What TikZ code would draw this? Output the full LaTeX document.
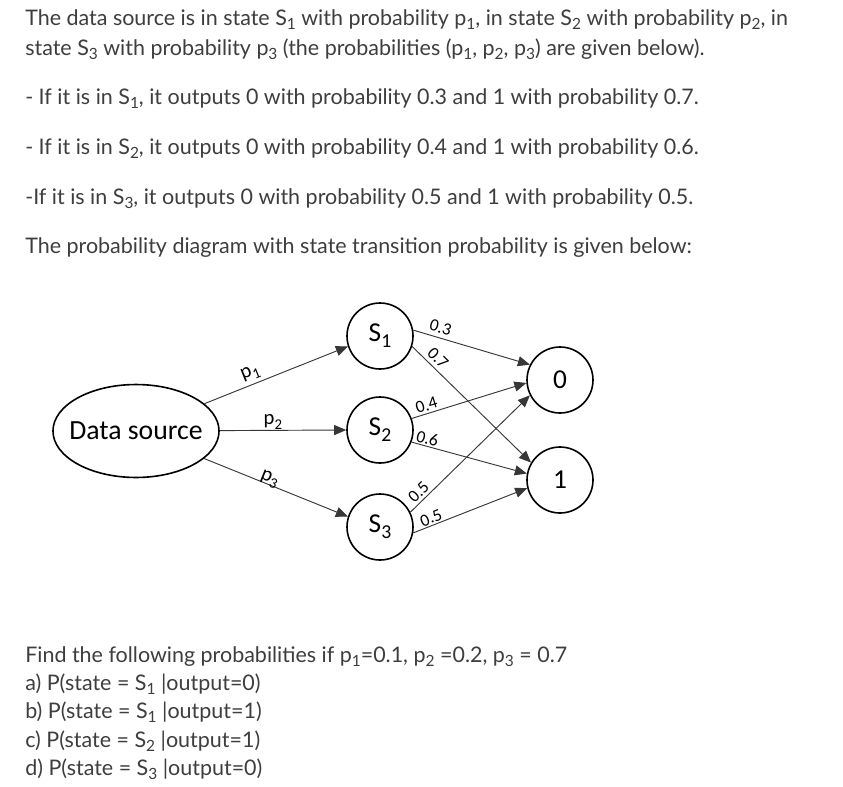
\documentclass[tikz,border=0pt]{standalone}
\usepackage{fontspec}
\setmainfont{Lato}
\newfontfamily\diagfont{Carlito}
\usepackage{xcolor}
\usetikzlibrary{arrows.meta,shapes.geometric}

\definecolor{textgray}{RGB}{62,62,62}
\definecolor{edgegray}{RGB}{55,55,55}

\newcommand{\idx}[1]{\raisebox{-0.22em}{\scalebox{0.72}{#1}}}

\begin{document}
\begin{tikzpicture}[
    x=0.75pt,
    y=-0.75pt,
    >={Triangle[length=9pt,width=7.5pt]},
    txt/.style={anchor=base west,inner sep=0pt,text=textgray,
        font=\fontsize{16.1pt}{19pt}\selectfont},
    state/.style={circle,draw,line width=1.2pt,minimum size=49.5pt,
        inner sep=0pt,font=\diagfont\fontsize{20.5pt}{24pt}\selectfont},
    source/.style={ellipse,draw,line width=1.2pt,inner xsep=-6pt,
        inner ysep=17.9pt,font=\diagfont\fontsize{20.8pt}{24pt}\selectfont},
    edge/.style={->,line width=0.7pt,draw=edgegray},
    plab/.style={sloped,inner sep=1pt,
        font=\diagfont\fontsize{15.5pt}{18pt}\selectfont},
    nlab/.style={sloped,inner sep=1pt,
        font=\diagfont\fontsize{13pt}{15pt}\selectfont}
]

\fill[white] (0,0) rectangle (843,786);
\useasboundingbox (0,0) rectangle (843,786);

% Problem statement
\node[txt] (l1) at (25,25)
    {The data source is in state S\idx{1} with probability p\idx{1}, in state S\idx{2} with probability p\idx{2}, in};
\node[txt] (l2) at (25,55)
    {state S\idx{3} with probability p\idx{3} (the probabilities (p\idx{1}, p\idx{2}, p\idx{3}) are given below).};
\node[txt] (l3) at (25,104)
    {- If it is in S\idx{1}, it outputs 0 with probability 0.3 and 1 with probability 0.7.};
\node[txt] (l4) at (25,154)
    {- If it is in S\idx{2}, it outputs 0 with probability 0.4 and 1 with probability 0.6.};
\node[txt] (l5) at (25,204)
    {-If it is in S\idx{3}, it outputs 0 with probability 0.5 and 1 with probability 0.5.};
\node[txt] (l6) at (25,253)
    {The probability diagram with state transition probability is given below:};

% Source, states and outputs
\node[source] (ds) at (136,431) {Data source};

\node[state] (s1) at (380,336) {S\idx{1}};
\node[state] (s2) at (380,430) {S\idx{2}};
\node[state] (s3) at (380,527) {S\idx{3}};

\node[state] (o0) at (560,380) {0};
\node[state] (o1) at (560,480) {1};

% Source to states
\draw[edge] (ds) -- (s1.198)
    node[plab,pos=0.35,above=1.5pt] {p\idx{1}};
\draw[edge] (ds) -- (s2.180)
    node[plab,pos=0.42,above=-0.5pt] {p\idx{2}};
\draw[edge] (ds) -- (s3.162)
    node[plab,pos=0.44,above=-3pt] {p\idx{3}};

% States to outputs
\draw[edge] (s1.10) -- (o0.153)
    node[nlab,pos=0.21,above=2pt] {0.3};
\draw[edge] (s1.-18) -- (o1.149)
    node[nlab,pos=0.16,above=1.7pt] {0.7};
\draw[edge] (s2.20) -- (o0.185)
    node[nlab,pos=0.15,above=0.7pt] {0.4};
\draw[edge] (s2.-21) -- (o1.169)
    node[nlab,pos=0.12,above=0pt] {0.6};
\draw[edge] (s3.26) -- (o0.207)
    node[nlab,pos=0.12,above=1pt] {0.5};
\draw[edge] (s3.-10) -- (o1.194)
    node[nlab,pos=0.18,above=0pt] {0.5};

% Questions
\node[txt] (q0) at (25,662)
    {Find the following probabilities if p\idx{1}=0.1, p\idx{2} =0.2, p\idx{3} = 0.7};
\node[txt] (qa) at (25,690) {a) P(state = S\idx{1} |output=0)};
\node[txt] (qb) at (25,718) {b) P(state = S\idx{1} |output=1)};
\node[txt] (qc) at (25,747) {c) P(state = S\idx{2} |output=1)};
\node[txt] (qd) at (25,775) {d) P(state = S\idx{3} |output=0)};

\end{tikzpicture}
\end{document}
